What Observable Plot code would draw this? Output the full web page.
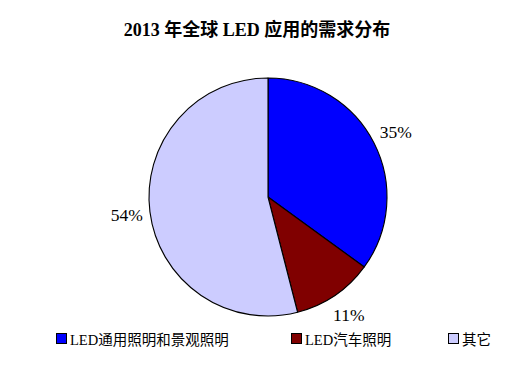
<!DOCTYPE html>
<html><head><meta charset="utf-8">
<script src="https://cdn.jsdelivr.net/npm/d3@7"></script>
<script src="https://cdn.jsdelivr.net/npm/@observablehq/plot@0.6"></script>
<style>
body{margin:0;background:#fff;}
#wrap{position:relative;width:505px;height:366px;overflow:hidden;}
#title{position:absolute;left:257px;top:21px;transform:translateX(-50%);white-space:nowrap;font-family:"Liberation Serif","Noto Sans CJK SC",serif;font-weight:bold;font-size:18px;line-height:18px;color:#000;}
#chart{position:absolute;left:0;top:52px;}
.item{position:absolute;top:330px;height:16px;display:flex;align-items:center;white-space:nowrap;font-family:"Liberation Serif","Noto Sans CJK SC",serif;font-size:14.5px;color:#000;}
.sw{width:9px;height:9px;border:1px solid #000;margin-right:3px;}
</style></head>
<body><div id="wrap"><div id="title"></div><div id="chart"></div><div id="legend"></div></div>
<script>
const titleText = "2013 年全球 LED 应用的需求分布";
const categories = ["LED通用照明和景观照明", "LED汽车照明", "其它"];
const shares = [35, 11, 54];
const pctLabels = ["35%", "11%", "54%"];
const colors = ["#0000ff", "#800000", "#ccccff"];
const legendX = [56, 291, 448];

document.getElementById("title").textContent = titleText;

const pie = d3.pie().sort(null).value(d => d.value)(categories.map((c, i) => ({name: c, value: shares[i], color: colors[i], label: pctLabels[i]})));
const labelData = pie.map(p => {
  const a = (p.startAngle + p.endAngle) / 2;
  return {x: 1.2 * Math.sin(a), y: 1.2 * Math.cos(a), text: p.data.label};
});

function slices(index, scales, values, dimensions) {
  const cx = scales.x(0), cy = scales.y(0);
  const r = scales.x(1) - scales.x(0);
  const arc = d3.arc().innerRadius(0).outerRadius(r);
  const g = d3.create("svg:g").attr("transform", `translate(${cx},${cy})`);
  g.selectAll("path").data(pie).join("path")
    .attr("d", arc)
    .attr("fill", d => d.data.color)
    .attr("stroke", "#000")
    .attr("stroke-width", 1.1)
    .attr("stroke-linejoin", "round");
  return g.node();
}

const chart = Plot.plot({
  width: 505,
  height: 275,
  marginLeft: 149,
  marginRight: 118,
  marginTop: 26,
  marginBottom: 11,
  x: {domain: [-1, 1], axis: null},
  y: {domain: [-1, 1], axis: null},
  style: {background: "none", fontFamily: "'Liberation Serif', serif"},
  marks: [
    slices,
    Plot.text(labelData, {x: "x", y: "y", text: "text", fontSize: 17.5, fontFamily: "'Liberation Serif', serif", fill: "#000"})
  ]
});
document.getElementById("chart").appendChild(chart);

const legend = document.getElementById("legend");
categories.forEach((c, i) => {
  const item = document.createElement("div");
  item.className = "item";
  item.style.left = legendX[i] + "px";
  const sw = document.createElement("div");
  sw.className = "sw";
  sw.style.background = colors[i];
  const t = document.createElement("span");
  t.textContent = c;
  item.appendChild(sw); item.appendChild(t);
  legend.appendChild(item);
});
</script>
</body></html>
